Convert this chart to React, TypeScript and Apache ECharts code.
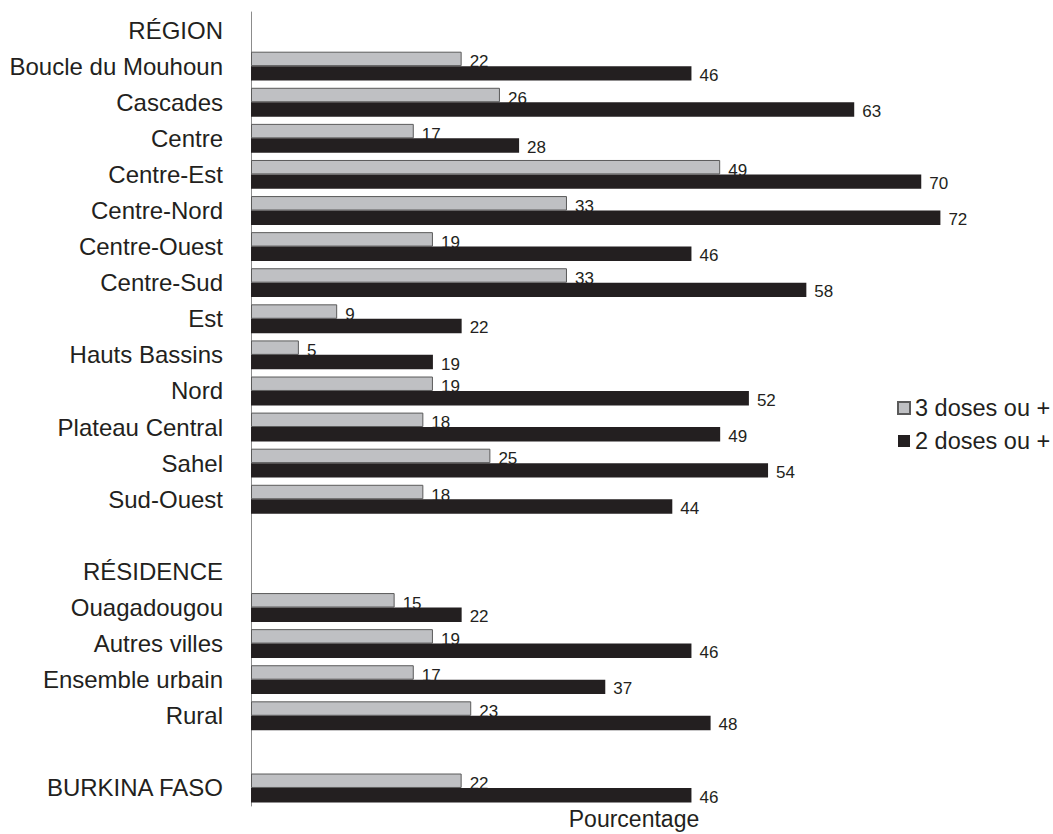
import React, { useEffect, useRef } from "react";
import * as echarts from "echarts";

// Rows of the y axis, top to bottom. Headers and spacer rows carry no values.
const categories: string[] = [
  "RÉGION",
  "Boucle du Mouhoun",
  "Cascades",
  "Centre",
  "Centre-Est",
  "Centre-Nord",
  "Centre-Ouest",
  "Centre-Sud",
  "Est",
  "Hauts Bassins",
  "Nord",
  "Plateau Central",
  "Sahel",
  "Sud-Ouest",
  "",
  "RÉSIDENCE",
  "Ouagadougou",
  "Autres villes",
  "Ensemble urbain",
  "Rural",
  " ",
  "BURKINA FASO",
];

const threeDoses: (number | null)[] = [
  null, 22, 26, 17, 49, 33, 19, 33, 9, 5, 19, 18, 25, 18,
  null, null, 15, 19, 17, 23, null, 22,
];

const twoDoses: (number | null)[] = [
  null, 46, 63, 28, 70, 72, 46, 58, 22, 19, 52, 49, 54, 44,
  null, null, 22, 46, 37, 48, null, 46,
];

const seriesNames = ["3 doses ou +", "2 doses ou +"];

const FONT = "'Liberation Sans', Arial, sans-serif";
const INK = "#231f20";
const BIG = 24;

export default function App() {
  const ref = useRef<HTMLDivElement>(null);

  useEffect(() => {
    if (!ref.current) return;
    const chart = echarts.init(ref.current, undefined, { renderer: "svg" });

    const valueLabel = (dy: number) => ({
      show: true,
      position: "right" as const,
      distance: 8,
      offset: [0, dy],
      color: INK,
      fontSize: 17,
      fontFamily: FONT,
    });

    chart.setOption({
      animation: false,
      textStyle: { fontFamily: FONT, color: INK },
      grid: {
        left: 251,
        right: 36,
        top: 12,
        bottom: 28,
        containLabel: false,
        outerBoundsMode: "none",
      },
      legend: {
        orient: "vertical",
        left: 897,
        top: 396,
        padding: 0,
        itemWidth: 12,
        itemHeight: 12,
        itemGap: 9,
        icon: "rect",
        textStyle: { fontSize: 23.5, color: INK, fontFamily: FONT },
        data: seriesNames,
      },
      xAxis: {
        type: "value",
        min: 0,
        max: 80,
        name: "Pourcentage",
        nameLocation: "middle",
        nameGap: 1,
        nameTextStyle: { fontSize: 23, color: INK, fontFamily: FONT },
        axisLine: { show: false },
        axisTick: { show: false },
        axisLabel: { show: false },
        splitLine: { show: false },
      },
      yAxis: {
        type: "category",
        inverse: true,
        data: categories,
        axisLine: { show: true, lineStyle: { color: "#8c8c8c", width: 1 } },
        axisTick: { show: false },
        axisLabel: {
          margin: 28,
          fontSize: BIG,
          color: INK,
          fontFamily: FONT,
        },
        splitLine: { show: false },
      },
      series: [
        {
          name: seriesNames[0],
          type: "bar",
          data: threeDoses,
          barGap: "0%",
          barCategoryGap: "20%",
          itemStyle: { color: "#bfc0c3", borderColor: "#5a5a5a", borderWidth: 1 },
          label: valueLabel(3),
        },
        {
          name: seriesNames[1],
          type: "bar",
          data: twoDoses,
          barGap: "0%",
          barCategoryGap: "20%",
          itemStyle: { color: INK },
          label: valueLabel(2),
        },
      ],
    });

    return () => chart.dispose();
  }, []);

  return (
    <div
      ref={ref}
      style={{ position: "fixed", left: 0, top: 0, width: 1053, height: 834, background: "#fff" }}
    />
  );
}
